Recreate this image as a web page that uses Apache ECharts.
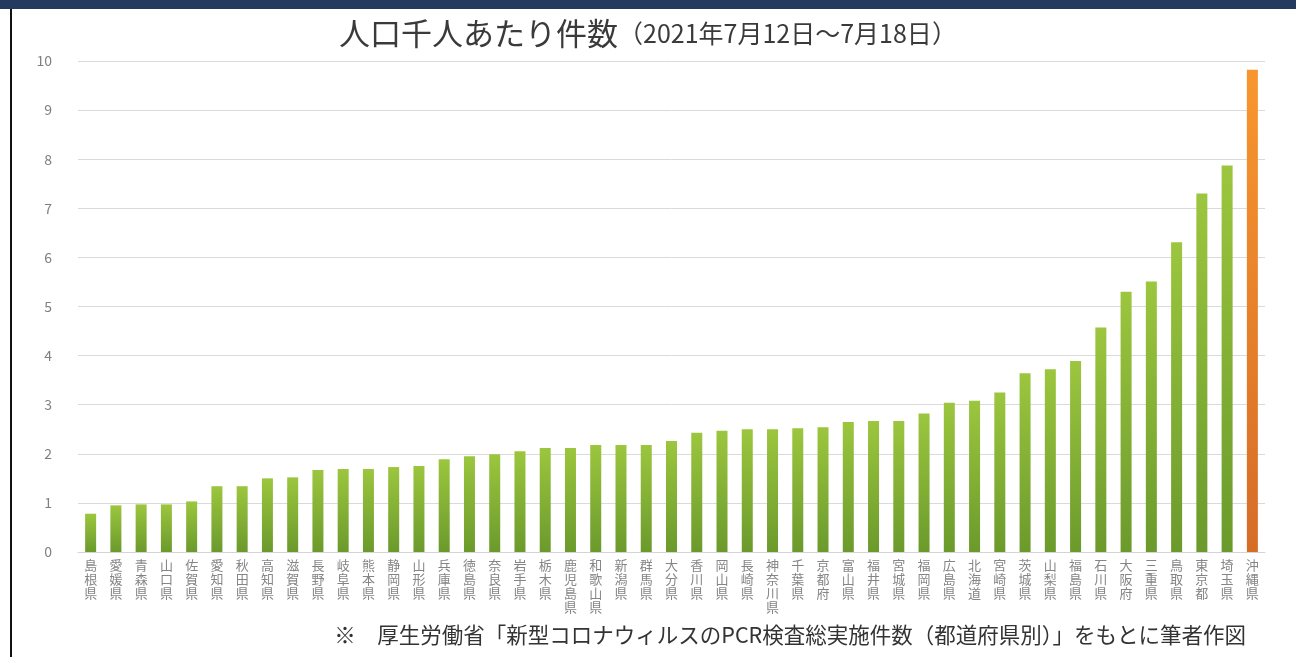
<!DOCTYPE html>
<html>
<head>
<meta charset="utf-8">
<script src="https://cdn.jsdelivr.net/npm/echarts@6/dist/echarts.min.js"></script>
<style>
  html, body { margin: 0; padding: 0; background: #fff; }
  #chart { width: 1296px; height: 657px; }
</style>
</head>
<body>
<div id="chart"></div>
<script>
// 都道府県（昇順）
const prefectures = [
  '島根県', '愛媛県', '青森県', '山口県', '佐賀県', '愛知県', '秋田県', '高知県',
  '滋賀県', '長野県', '岐阜県', '熊本県', '静岡県', '山形県', '兵庫県', '徳島県',
  '奈良県', '岩手県', '栃木県', '鹿児島県', '和歌山県', '新潟県', '群馬県', '大分県',
  '香川県', '岡山県', '長崎県', '神奈川県', '千葉県', '京都府', '富山県', '福井県',
  '宮城県', '福岡県', '広島県', '北海道', '宮崎県', '茨城県', '山梨県', '福島県',
  '石川県', '大阪府', '三重県', '鳥取県', '東京都', '埼玉県', '沖縄県'
]
// 人口千人あたり件数
const perThousand = [
  0.78, 0.95, 0.97, 0.97, 1.03, 1.34, 1.34, 1.50,
  1.52, 1.67, 1.69, 1.69, 1.73, 1.75, 1.89, 1.95,
  1.99, 2.05, 2.12, 2.12, 2.18, 2.18, 2.18, 2.26,
  2.43, 2.47, 2.50, 2.50, 2.52, 2.54, 2.65, 2.67,
  2.67, 2.82, 3.04, 3.08, 3.25, 3.64, 3.72, 3.89,
  4.57, 5.30, 5.51, 6.31, 7.30, 7.87, 9.82
]
const highlight = '沖縄県'
const yTicks = [0, 1, 2, 3, 4, 5, 6, 7, 8, 9, 10]

const titleMain = '人口千人あたり件数'
const titleSub = '（2021年7月12日～7月18日）'
const footnote = '※　厚生労働省「新型コロナウィルスのPCR検査総実施件数（都道府県別）」をもとに筆者作図'

const FONT = "'Noto Sans CJK JP', 'Noto Sans', sans-serif"
const GREEN = new echarts.graphic.LinearGradient(0, 0, 0, 1, [
  { offset: 0, color: '#9cc63e' },
  { offset: 1, color: '#6b9a2c' }
])
const ORANGE = new echarts.graphic.LinearGradient(0, 0, 0, 1, [
  { offset: 0, color: '#f8962e' },
  { offset: 1, color: '#d56d27' }
])

const chart = echarts.init(document.getElementById('chart'))
chart.setOption({
  animation: false,
  textStyle: { fontFamily: FONT },
  title: {
    text: '{a|' + titleMain + '}{b|' + titleSub + '}',
    left: 'center',
    top: 13,
    textStyle: {
      rich: {
        a: { fontFamily: FONT, fontSize: 31, fontWeight: 'normal', color: '#3a3a3a' },
        b: { fontFamily: FONT, fontSize: 25, fontWeight: 'normal', color: '#3a3a3a' }
      }
    }
  },
  grid: { left: 78, right: 31, top: 61, bottom: 105 },
  xAxis: {
    type: 'category',
    data: prefectures,
    axisLine: { lineStyle: { color: '#d4d4d4' } },
    axisTick: { show: false },
    axisLabel: {
      interval: 0,
      margin: 6,
      color: '#858585',
      fontSize: 13,
      lineHeight: 14,
      verticalAlign: 'top',
      formatter: (v) => v.split('').join('\n')
    }
  },
  yAxis: {
    type: 'value',
    min: yTicks[0],
    max: yTicks[yTicks.length - 1],
    interval: 1,
    axisLine: { show: false },
    axisTick: { show: false },
    axisLabel: { color: '#7f7f7f', fontSize: 14, margin: 26 },
    splitLine: { lineStyle: { color: '#dadada' } }
  },
  series: [{
    type: 'bar',
    data: perThousand.map((v, i) => ({
      value: v,
      itemStyle: { color: prefectures[i] === highlight ? ORANGE : GREEN }
    })),
    barWidth: 11
  }],
  graphic: [
    {
      type: 'rect',
      shape: { x: 0, y: 0, width: 1296, height: 9 },
      style: { fill: '#243a5e' }
    },
    {
      type: 'rect',
      shape: { x: 10, y: 9, width: 2, height: 648 },
      style: { fill: '#111' }
    },
    {
      type: 'text',
      right: 50,
      top: 624,
      style: { text: footnote, font: '21.5px ' + FONT, fill: '#333' }
    }
  ]
})
</script>
</body>
</html>
